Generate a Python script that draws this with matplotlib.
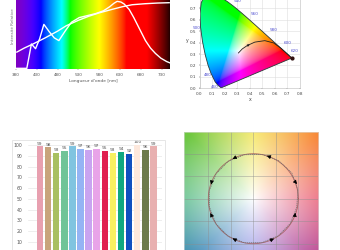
import numpy as np
import matplotlib
matplotlib.use('Agg')
import matplotlib.pyplot as plt
from matplotlib.path import Path
from matplotlib.patches import PathPatch, Rectangle

# ---- data ----
# spectrum panel
spec_ticks = [380, 430, 480, 530, 580, 630, 680, 730]
smooth_nm = [382, 400, 421, 450, 480, 501, 530, 555, 580, 610, 635, 659, 690, 720, 748]
smooth_val = [0.25, 0.31, 0.37, 0.46, 0.56, 0.64, 0.72, 0.78, 0.83, 0.88, 0.92, 0.95, 0.965, 0.975, 0.98]
led_nm = [380, 395, 406, 417, 427, 437, 447, 460, 472, 483, 498, 513, 532, 552, 572, 590, 605, 615, 623, 632, 640, 652, 663, 677, 691, 703, 715, 728, 742, 750]
led_val = [0.01, 0.01, 0.01, 0.37, 0.30, 0.45, 0.66, 0.55, 0.46, 0.42, 0.56, 0.69, 0.76, 0.79, 0.82, 0.86, 0.92, 0.97, 1.0, 0.99, 0.96, 0.88, 0.76, 0.59, 0.42, 0.31, 0.23, 0.16, 0.11, 0.09]

# CIE 1931 spectral locus
locus_x = [0.1741, 0.1738, 0.1733, 0.1726, 0.1714, 0.1689, 0.1644, 0.1566, 0.1440, 0.1241, 0.0913,
           0.0687, 0.0454, 0.0235, 0.0082, 0.0039, 0.0139, 0.0389, 0.0743, 0.1142, 0.1547, 0.1929,
           0.2296, 0.2658, 0.3016, 0.3373, 0.3731, 0.4087, 0.4441, 0.4788, 0.5125, 0.5448, 0.5752,
           0.6029, 0.6270, 0.6482, 0.6658, 0.6915, 0.7079, 0.7190, 0.7260, 0.7300, 0.7347]
locus_y = [0.0050, 0.0049, 0.0048, 0.0048, 0.0051, 0.0069, 0.0109, 0.0177, 0.0297, 0.0578, 0.1327,
           0.2007, 0.2950, 0.4127, 0.5384, 0.6548, 0.7502, 0.8120, 0.8338, 0.8262, 0.8059, 0.7816,
           0.7543, 0.7243, 0.6923, 0.6589, 0.6245, 0.5896, 0.5547, 0.5202, 0.4866, 0.4544, 0.4242,
           0.3965, 0.3725, 0.3514, 0.3340, 0.3083, 0.2920, 0.2809, 0.2740, 0.2700, 0.2653]
wl_labels = ['460', '480', '500', '540', '560', '580', '600', '620']
wl_label_x = [0.09, 0.035, -0.055, 0.27, 0.41, 0.56, 0.67, 0.73]
wl_label_y = [0.012, 0.115, 0.53, 0.765, 0.65, 0.51, 0.395, 0.33]
planck_x = [0.31, 0.34, 0.38, 0.44, 0.52, 0.59, 0.65, 0.70, 0.735]
planck_y = [0.31, 0.345, 0.375, 0.405, 0.418, 0.398, 0.35, 0.30, 0.265]

# bar panel
bar_values = [99, 98, 93, 95, 99, 97, 96, 97, 95, 93, 94, 92, 100, 96, 99]
bar_colors = ['#e8a0b0', '#c8a47c', '#a8c060', '#70c498', '#80c4e0', '#94b4f4', '#c8a4f0', '#e8a4e8',
              '#e02050', '#f8f060', '#10a880', '#1050c0', '#fde8dc', '#6c7c4c', '#e8b0b0']

# colour vector graphic panel
cvg_angles = [11.25, 33.75, 56.25, 78.75, 101.25, 123.75, 146.25, 168.75,
              191.25, 213.75, 236.25, 258.75, 281.25, 303.75, 326.25, 348.75]
cvg_test_r = [2.02, 2.06, 2.03, 2.0, 1.99, 2.0, 1.99, 1.98, 1.98, 2.0, 2.01, 2.0, 1.99, 1.99, 1.98, 1.97]
arrow_angles = [22.5, 67.5, 112.5, 157.5, 202.5, 247.5, 292.5, 337.5]
arrow_shift = [-4, 5, 5, 4, -4, -5, 5, 4]
arrow_r = [2.05, 2.0, 1.99, 1.98, 2.01, 1.99, 2.0, 1.97]

W, H = 340, 250
fig = plt.figure(figsize=(3.4, 2.5), dpi=100)


def box(x0, y0, x1, y1):
    return [x0 / W, 1 - y1 / H, (x1 - x0) / W, (y1 - y0) / H]


def wl_rgb(w):
    r = np.zeros_like(w); g = np.zeros_like(w); b = np.zeros_like(w)
    m = w < 440
    r[m] = 0.6 * (440 - w[m]) / 60; b[m] = 1
    m = (w >= 440) & (w < 490)
    g[m] = (w[m] - 440) / 50; b[m] = 1
    m = (w >= 490) & (w < 510)
    g[m] = 1; b[m] = (510 - w[m]) / 20
    m = (w >= 510) & (w < 580)
    r[m] = (w[m] - 510) / 70; g[m] = 1
    m = (w >= 580) & (w < 645)
    r[m] = 1; g[m] = (645 - w[m]) / 65
    m = w >= 645
    r[m] = 1
    f = np.ones_like(w)
    m = w < 420
    f[m] = 0.7 + 0.3 * (w[m] - 380) / 40
    m = w > 695
    f[m] = 0.08 + 0.92 * (750 - w[m]) / 55
    return np.clip(np.stack([r, g, b], -1) * f[:, None], 0, 1) ** 0.8


# ---- spectrum ----
ax1 = fig.add_axes(box(16, 0, 170, 69))
lam = np.linspace(380, 750, 500)
ax1.imshow(wl_rgb(lam)[None, :, :], extent=[380, 750, 0, 1.02], aspect='auto', origin='lower')
ax1.plot(smooth_nm, smooth_val, color='white', lw=1.0)
ax1.plot(led_nm, led_val, color='white', lw=1.0)
ax1.set_xlim(380, 750)
ax1.set_ylim(0, 1.02)
ax1.set_xticks(spec_ticks)
ax1.set_yticks([])
ax1.tick_params(labelsize=3, colors='#555555', length=1, width=0.3, pad=2)
for s in ax1.spines.values():
    s.set_visible(False)
ax1.set_xlabel("Longueur d'onde [nm]", fontsize=3.2, color='#555555', labelpad=1)
fig.text(13 / W, 1 - 26 / H, 'Intensité Relative', rotation=90, fontsize=3, color='#777777',
         ha='center', va='center')

# ---- CIE diagram ----
ax2 = fig.add_axes(box(199.5, -2.9, 300, 88.3))
ax2.set_xlim(0, 0.8)
ax2.set_ylim(0, 0.8)
gx = np.linspace(0, 0.8, 320)
gy = np.linspace(0.002, 0.9, 320)
X, Y = np.meshgrid(gx, gy)
XYZ = np.stack([X / Y, np.ones_like(X), (1 - X - Y) / Y], -1)
M = np.array([[3.2406, -1.5372, -0.4986], [-0.9689, 1.8758, 0.0415], [0.0557, -0.2040, 1.0570]])
rgb = np.clip(XYZ @ M.T, 0, None)
rgb = rgb / rgb.max(axis=-1, keepdims=True)
rgb = np.clip(rgb, 0, 1) ** (1 / 2.2)
im = ax2.imshow(rgb, extent=[0, 0.8, 0.002, 0.9], origin='lower', aspect='auto', zorder=2)
pts = np.column_stack([locus_x + [locus_x[0]], locus_y + [locus_y[0]]])
patch = PathPatch(Path(pts), transform=ax2.transData, facecolor='none', edgecolor='#2a3a3a',
                  lw=0.6, zorder=3)
ax2.add_patch(patch)
im.set_clip_path(patch)
ax2.plot(planck_x, planck_y, color='#222222', lw=0.6, zorder=4)
ax2.annotate('', xy=(0.40, 0.384), xytext=(0.37, 0.368),
             arrowprops=dict(arrowstyle='-|>', color='#222222', lw=0.5, mutation_scale=3), zorder=5)
ax2.plot([0.7347], [0.2653], 'o', color='#301010', ms=2, zorder=5)
for t, tx, ty in zip(wl_labels, wl_label_x, wl_label_y):
    ax2.text(tx, ty, t, fontsize=3, color='#5050d0', ha='left', va='center', zorder=6, clip_on=False)
ticks = np.arange(0, 0.81, 0.1)
ax2.set_xticks(ticks)
ax2.set_yticks(ticks)
ax2.set_xticklabels(['%.1f' % v for v in ticks])
ax2.set_yticklabels(['%.1f' % v for v in ticks[:-1]] + [''])
ax2.tick_params(labelsize=3, colors='#444444', length=1, width=0.3, pad=1.5)
ax2.grid(True, color='#dddddd', lw=0.4, zorder=0)
for s in ax2.spines.values():
    s.set_color('#bbbbbb')
    s.set_linewidth(0.4)
ax2.set_xlabel('x', fontsize=3.3, color='#444444', labelpad=1)
ax2.set_ylabel('y', fontsize=3.3, color='#444444', labelpad=2, rotation=0)

# ---- bar chart ----
fig.patches.append(Rectangle((11.7 / W, -0.01), (165 - 11.7) / W, (250 - 140) / H + 0.01,
                             transform=fig.transFigure, fill=False, edgecolor='#e2e2e2', lw=0.6))
ax3 = fig.add_axes(box(28, 140, 162, 252.3))
idx = np.arange(len(bar_values))
ax3.bar(idx, bar_values, width=0.8, color=bar_colors, zorder=2)
for i, v in zip(idx, bar_values):
    ax3.text(i, v + 0.8, str(v), ha='center', va='bottom', fontsize=3.2, color='#555555')
ax3.set_xlim(-1.48, 15.06)
ax3.set_ylim(0, 105)
ax3.set_yticks(range(0, 101, 10))
ax3.set_xticks([])
ax3.tick_params(labelsize=3.3, colors='#555555', length=0, pad=4)
ax3.grid(axis='y', color='#e8e8e8', lw=0.5, zorder=0)
ax3.set_axisbelow(True)
for s in ax3.spines.values():
    s.set_visible(False)

# ---- colour vector graphic ----
ax4 = fig.add_axes(box(184, 132.3, 318.3, 268))
xl, xr, yb, yt = -3.08, 2.89, -3.08, 2.95
bx = np.linspace(xl, xr, 300)
by = np.linspace(yb, yt, 300)
BX, BY = np.meshgrid(bx, by)
ang = np.degrees(np.arctan2(BY, BX)) % 360
anchor_deg = [0, 45, 90, 135, 180, 225, 270, 315, 360]
anchor_col = ['#e85068', '#f88838', '#f4e448', '#70c840', '#58bc88', '#3c88b8', '#8a86e4', '#b44898', '#e85068']
anc = np.array([matplotlib.colors.to_rgb(c) for c in anchor_col])
hue = np.stack([np.interp(ang, anchor_deg, anc[:, k]) for k in range(3)], -1)
sat = np.clip(np.hypot(BX, BY) / 4.0, 0, 1)[..., None] ** 0.9
bg = (1 - sat) + hue * sat
ax4.imshow(bg, extent=[xl, xr, yb, yt], origin='lower', aspect='auto', zorder=0)
ax4.set_xlim(xl, xr)
ax4.set_ylim(yb, yt)
ax4.set_xticks(range(-2, 3))
ax4.set_yticks(range(-3, 3))
ax4.tick_params(length=0, labelbottom=False, labelleft=False)
ax4.grid(True, color='#8c8c8c', lw=0.5, alpha=0.6, zorder=1)
for s in ax4.spines.values():
    s.set_color('#dddddd')
    s.set_linewidth(0.4)
t = np.linspace(0, 2 * np.pi, 200)
ax4.plot(2 * np.cos(t), 2 * np.sin(t), color='#a05050', lw=0.6, alpha=0.8, zorder=2)
ca = np.radians(cvg_angles + [cvg_angles[0]])
cr = np.array(cvg_test_r + [cvg_test_r[0]])
ax4.plot(cr * np.cos(ca), cr * np.sin(ca), color='#707070', lw=0.5, ls=(0, (2, 1)), zorder=3)
for a, d, r in zip(arrow_angles, arrow_shift, arrow_r):
    a0 = np.radians(a)
    a1 = np.radians(a + d)
    ax4.annotate('', xy=(r * np.cos(a1), r * np.sin(a1)), xytext=(2 * np.cos(a0), 2 * np.sin(a0)),
                 arrowprops=dict(arrowstyle='-|>', color='black', lw=0.5, mutation_scale=5.5,
                                 shrinkA=0, shrinkB=0), zorder=4)

fig.savefig('out.png', dpi=100)
